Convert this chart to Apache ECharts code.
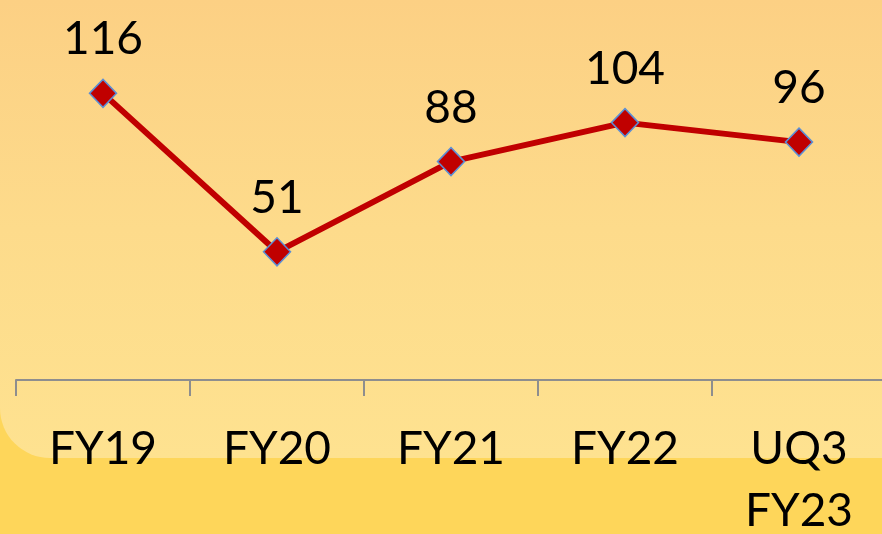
<!DOCTYPE html>
<html>
<head>
<meta charset="utf-8">
<title>line</title>
<style>
html, body { margin: 0; padding: 0; }
#chart { width: 882px; height: 534px; }
</style>
</head>
<body>
<div id="chart"></div>
<script src="https://cdn.jsdelivr.net/npm/echarts@6/dist/echarts.min.js"></script>
<script>
var categories = ['FY19', 'FY20', 'FY21', 'FY22', 'UQ3\nFY23'];
var values = [116, 51, 88, 104, 96];

var chart = echarts.init(document.getElementById('chart'));

var option = {
    animation: false,
    backgroundColor: '#fed65a',
    graphic: [
        {
            // lighter upper panel with rounded lower-left corner
            type: 'rect', z: -10, silent: true,
            shape: { x: 0, y: 0, width: 882, height: 458, r: [0, 0, 0, 50] },
            style: {
                fill: {
                    type: 'linear', x: 0, y: 0, x2: 0, y2: 1,
                    colorStops: [
                        { offset: 0, color: '#fcd084' },
                        { offset: 0.5, color: '#fddb8b' },
                        { offset: 1, color: '#fee290' }
                    ]
                }
            }
        }
    ],
    grid: { left: 16, width: 870, top: 10.5, bottom: 154, outerBoundsMode: 'none', containLabel: false },
    xAxis: {
        type: 'category',
        data: categories,
        boundaryGap: true,
        axisLine: { onZero: false, lineStyle: { color: '#8e8e8e', width: 2 } },
        axisTick: { show: true, length: 16, lineStyle: { color: '#8e8e8e', width: 2 } },
        axisLabel: {
            color: '#000',
            fontFamily: 'Lato',
            fontSize: 46,
            lineHeight: 62,
            margin: 38,
            interval: 0,
            hideOverlap: false
        },
        splitLine: { show: false }
    },
    yAxis: {
        type: 'value',
        min: -1.6,
        max: 150,
        show: false
    },
    series: [{
        type: 'line',
        data: values,
        symbol: 'diamond',
        symbolSize: [27, 28],
        lineStyle: { color: '#c00000', width: 6 },
        itemStyle: { color: '#c00000', borderColor: '#5b8fd6', borderWidth: 1.5 },
        label: {
            show: true,
            position: 'top',
            distance: 16,
            color: '#000',
            fontFamily: 'Lato',
            fontSize: 46
        }
    }]
};

chart.setOption(option);
</script>
</body>
</html>
